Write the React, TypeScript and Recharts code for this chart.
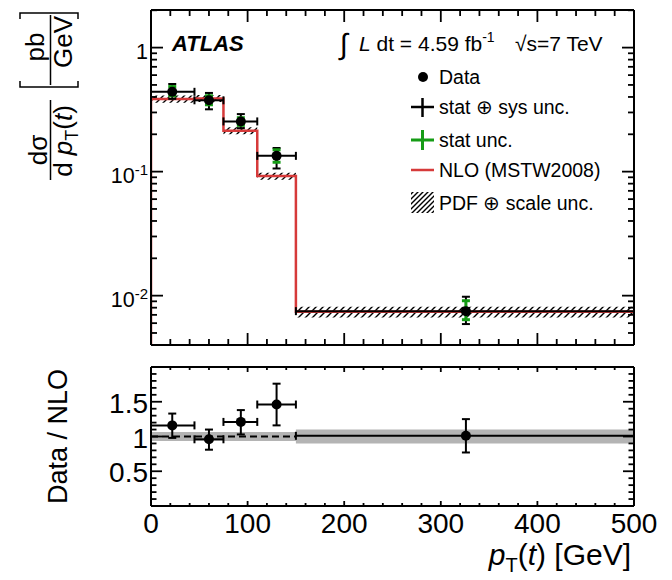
import React from 'react';
import { ComposedChart, Line, Area, Scatter, ErrorBar, XAxis, YAxis } from 'recharts';

const FONT = '"Liberation Sans", Arial, Helvetica, sans-serif';
const RED = '#d63a3a';
const GREEN = '#159c15';
const BAND_GRAY = '#b4b4b4';

// ---- data ----
const binEdges = [0, 45, 75, 110, 150, 500];
const nloValues = [0.385, 0.389, 0.214, 0.092, 0.0074];
const nloRelUnc = [0.065, 0.065, 0.065, 0.065, 0.1];

const dataX = [22, 60, 93, 130, 326];
const dataY = [0.44, 0.376, 0.254, 0.134, 0.0075];
const totErrUp = [0.069, 0.055, 0.037, 0.021, 0.0023];
const totErrDown = [0.054, 0.058, 0.03, 0.028, 0.0016];
const statErrUp = [0.045, 0.033, 0.018, 0.016, 0.0016];
const statErrDown = [0.031, 0.03, 0.018, 0.015, 0.0011];

const ratioY = [1.16, 0.96, 1.21, 1.46, 1.01];
const ratioErrUp = [0.17, 0.14, 0.17, 0.3, 0.24];
const ratioErrDown = [0.18, 0.15, 0.18, 0.3, 0.24];

// ---- ticks ----
const xMajorTicks = [0, 100, 200, 300, 400, 500];
const xTickLabels = ['0', '100', '200', '300', '400', '500'];
const xTicks = [0, 20, 40, 60, 80, 100, 120, 140, 160, 180, 200, 220, 240, 260, 280, 300, 320, 340, 360, 380, 400, 420, 440, 460, 480, 500];
const topYMajor = [1, 0.1, 0.01];
const topYLabelBase = ['1', '10', '10'];
const topYLabelExp = ['', '-1', '-2'];
const topYTicks = [0.005, 0.006, 0.007, 0.008, 0.009, 0.01, 0.02, 0.03, 0.04, 0.05, 0.06, 0.07, 0.08, 0.09, 0.1, 0.2, 0.3, 0.4, 0.5, 0.6, 0.7, 0.8, 0.9, 1, 2];
const topYDomain = [0.004, 2.01];
const ratioYMajor = [0.5, 1, 1.5];
const ratioYLabels = ['0.5', '1', '1.5'];
const ratioYTicks = [0.1, 0.2, 0.3, 0.4, 0.5, 0.6, 0.7, 0.8, 0.9, 1, 1.1, 1.2, 1.3, 1.4, 1.5, 1.6, 1.7, 1.8, 1.9];
const ratioYDomain = [0, 2];

// ---- tables built from the arrays ----
const nloStep = [
  { x: binEdges[0], nlo: topYDomain[0] },
  ...nloValues.map((v, i) => ({ x: binEdges[i], nlo: v })),
  { x: binEdges[binEdges.length - 1], nlo: nloValues[nloValues.length - 1] },
];
const nloBand = binEdges.map((e, i) => {
  const k = Math.min(i, nloValues.length - 1);
  return { x: e, band: [nloValues[k] * (1 - nloRelUnc[k]), nloValues[k] * (1 + nloRelUnc[k])] };
});
const ratioBand = binEdges.map((e, i) => {
  const k = Math.min(i, nloRelUnc.length - 1);
  return { x: e, band: [1 - nloRelUnc[k], 1 + nloRelUnc[k]] };
});
const ratioRef = [
  { x: binEdges[0], one: 1 },
  { x: binEdges[4], one: 1 },
];
const points = dataX.map((x, i) => ({
  x,
  y: dataY[i],
  xErr: [x - binEdges[i], binEdges[i + 1] - x],
  totErr: [totErrDown[i], totErrUp[i]],
  statErr: [statErrDown[i], statErrUp[i]],
}));
const ratioPoints = dataX.map((x, i) => ({
  x,
  r: ratioY[i],
  xErr: [x - binEdges[i], binEdges[i + 1] - x],
  rErr: [ratioErrDown[i], ratioErrUp[i]],
}));

type Side = 'bottom' | 'top' | 'left' | 'right';
const near = (a: number, b: number) => Math.abs(a - b) <= 1e-6 * Math.max(Math.abs(a), Math.abs(b), 1e-9);

function makeTick(
  side: Side,
  majors: number[],
  majorLen: number,
  minorLen: number,
  label?: (idx: number, x: number, y: number) => React.ReactNode
) {
  return (props: any) => {
    const { x, y, payload } = props;
    const v = Number(payload.value);
    const mi = majors.findIndex((m) => near(m, v));
    const L = mi >= 0 ? majorLen : minorLen;
    let x2 = x;
    let y2 = y;
    if (side === 'bottom') y2 = y - L;
    else if (side === 'top') y2 = y + L;
    else if (side === 'left') x2 = x + L;
    else x2 = x - L;
    return (
      <g>
        <line x1={x} y1={y} x2={x2} y2={y2} stroke="#000" strokeWidth={1.8} />
        {mi >= 0 && label ? label(mi, x, y) : null}
      </g>
    );
  };
}

const topYLabel = (i: number, x: number, y: number) => (
  <text x={x - 3} y={y + 11} textAnchor="end" fontSize={21.5} fontFamily={FONT} fill="#000">
    {topYLabelBase[i]}
    {topYLabelExp[i] ? (
      <tspan dy={-8} fontSize={15}>
        {topYLabelExp[i]}
      </tspan>
    ) : null}
  </text>
);
const ratioYLabel = (i: number, x: number, y: number) => (
  <text x={x - 3} y={y + 11} textAnchor="end" fontSize={28} fontFamily={FONT} fill="#000">
    {ratioYLabels[i]}
  </text>
);
const xLabel = (i: number, x: number, y: number) => (
  <text x={x} y={y + 26.5} textAnchor="middle" fontSize={28} fontFamily={FONT} fill="#000">
    {xTickLabels[i]}
  </text>
);

const frameLine = { stroke: '#000', strokeWidth: 2 };
const dotShape = (p: any) => <circle cx={p.cx} cy={p.cy} r={5} fill="#000" />;
const noShape = () => <g />;

const axisCommon = {
  tickSize: 0,
  tickMargin: 0,
  tickLine: false,
  interval: 0 as const,
  allowDataOverflow: true,
  axisLine: frameLine,
};

function TopChart() {
  return (
    <ComposedChart width={672} height={352} margin={{ top: 9, right: 37, bottom: 6, left: 150 }}>
      <XAxis
        xAxisId={0}
        dataKey="x"
        type="number"
        domain={[0, 500]}
        ticks={xTicks}
        height={1}
        {...axisCommon}
        tick={makeTick('bottom', xMajorTicks, 12, 6)}
      />
      <XAxis
        xAxisId="t"
        orientation="top"
        dataKey="x"
        type="number"
        domain={[0, 500]}
        ticks={xTicks}
        height={1}
        {...axisCommon}
        tick={makeTick('top', xMajorTicks, 12, 6)}
      />
      <YAxis
        yAxisId={0}
        scale="log"
        type="number"
        domain={topYDomain}
        ticks={topYTicks}
        width={1}
        {...axisCommon}
        tick={makeTick('left', topYMajor, 12, 6, topYLabel)}
      />
      <YAxis
        yAxisId="r"
        orientation="right"
        scale="log"
        type="number"
        domain={topYDomain}
        ticks={topYTicks}
        width={1}
        {...axisCommon}
        tick={makeTick('right', topYMajor, 12, 6)}
      />
      <Area
        data={nloBand}
        dataKey="band"
        type="stepAfter"
        fill="url(#hatchBand)"
        fillOpacity={1}
        stroke="none"
        isAnimationActive={false}
      />
      <Line
        data={nloStep}
        dataKey="nlo"
        type="stepAfter"
        stroke={RED}
        strokeWidth={2.5}
        dot={false}
        activeDot={false}
        isAnimationActive={false}
      />
      <Scatter data={points} dataKey="y" shape={dotShape} isAnimationActive={false}>
        <ErrorBar dataKey="xErr" direction="x" width={4} stroke="#000" strokeWidth={2} />
        <ErrorBar dataKey="totErr" direction="y" width={4} stroke="#000" strokeWidth={2} />
      </Scatter>
      <Scatter data={points} dataKey="y" shape={noShape} isAnimationActive={false}>
        <ErrorBar dataKey="statErr" direction="y" width={4} stroke={GREEN} strokeWidth={3} />
      </Scatter>
    </ComposedChart>
  );
}

function RatioChart() {
  return (
    <ComposedChart width={672} height={230} margin={{ top: 16, right: 37, bottom: 73, left: 150 }}>
      <XAxis
        xAxisId={0}
        dataKey="x"
        type="number"
        domain={[0, 500]}
        ticks={xTicks}
        height={1}
        {...axisCommon}
        tick={makeTick('bottom', xMajorTicks, 5, 3, xLabel)}
      />
      <XAxis
        xAxisId="t"
        orientation="top"
        dataKey="x"
        type="number"
        domain={[0, 500]}
        ticks={xTicks}
        height={1}
        {...axisCommon}
        tick={makeTick('top', xMajorTicks, 5, 3)}
      />
      <YAxis
        yAxisId={0}
        type="number"
        domain={ratioYDomain}
        ticks={ratioYTicks}
        width={1}
        {...axisCommon}
        tick={makeTick('left', ratioYMajor, 11, 5.5, ratioYLabel)}
      />
      <YAxis
        yAxisId="r"
        orientation="right"
        type="number"
        domain={ratioYDomain}
        ticks={ratioYTicks}
        width={1}
        {...axisCommon}
        tick={makeTick('right', ratioYMajor, 11, 5.5)}
      />
      <Area
        data={ratioBand}
        dataKey="band"
        type="stepAfter"
        fill={BAND_GRAY}
        fillOpacity={1}
        stroke="none"
        isAnimationActive={false}
      />
      <Line
        data={ratioRef}
        dataKey="one"
        type="linear"
        stroke="#000"
        strokeWidth={2}
        strokeDasharray="7 4"
        dot={false}
        activeDot={false}
        isAnimationActive={false}
      />
      <Scatter data={ratioPoints} dataKey="r" shape={dotShape} isAnimationActive={false}>
        <ErrorBar dataKey="xErr" direction="x" width={4} stroke="#000" strokeWidth={2} />
        <ErrorBar dataKey="rErr" direction="y" width={4} stroke="#000" strokeWidth={2} />
      </Scatter>
    </ComposedChart>
  );
}

function Overlay() {
  const t = { fontFamily: FONT, fill: '#000' };
  return (
    <svg
      width={672}
      height={580}
      style={{ position: 'absolute', left: 0, top: 0, pointerEvents: 'none' }}
    >
      <defs>
        <pattern id="hatchBand" patternUnits="userSpaceOnUse" width={7} height={7}>
          <path d="M0,7 L7,0 M-1,1 L1,-1 M6,8 L8,6" stroke="#000" strokeWidth={1.4} />
        </pattern>
        <pattern id="hatchLegend" patternUnits="userSpaceOnUse" width={5} height={5}>
          <path d="M0,5 L5,0 M-1,1 L1,-1 M4,6 L6,4" stroke="#000" strokeWidth={1.4} />
        </pattern>
      </defs>

      {/* ATLAS label */}
      <text x={172} y={51} fontSize={22} fontWeight="bold" fontStyle="italic" {...t}>
        ATLAS
      </text>

      {/* luminosity / energy */}
      <text x={340} y={54} fontSize={29} {...t}>
        ∫
      </text>
      <text x={359} y={51} fontSize={21} {...t}>
        <tspan fontStyle="italic">L</tspan> dt = 4.59 fb
        <tspan dy={-9} fontSize={14}>
          -1
        </tspan>
      </text>
      <text x={515} y={51} fontSize={21} {...t}>
        √s=7 TeV
      </text>

      {/* legend */}
      <circle cx={423} cy={77} r={5} fill="#000" />
      <text x={439} y={84} fontSize={19.5} {...t}>
        Data
      </text>
      <line x1={411} y1={107} x2={434} y2={107} stroke="#000" strokeWidth={2.5} />
      <line x1={422.5} y1={98} x2={422.5} y2={117} stroke="#000" strokeWidth={2.5} />
      <text x={439} y={114} fontSize={19.5} {...t}>
        stat ⊕ sys unc.
      </text>
      <line x1={411} y1={140} x2={434} y2={140} stroke={GREEN} strokeWidth={3} />
      <line x1={422.5} y1={130} x2={422.5} y2={150} stroke={GREEN} strokeWidth={3} />
      <text x={439} y={147} fontSize={19.5} {...t}>
        stat unc.
      </text>
      <line x1={411} y1={170} x2={434} y2={170} stroke={RED} strokeWidth={2.5} />
      <text x={439} y={177} fontSize={19.5} {...t}>
        NLO (MSTW2008)
      </text>
      <rect x={411} y={192} width={23} height={21} fill="url(#hatchLegend)" />
      <text x={439} y={210} fontSize={19.5} {...t}>
        PDF ⊕ scale unc.
      </text>

      {/* top y-axis title */}
      <text transform="translate(47,150) rotate(-90)" textAnchor="middle" fontSize={26} {...t}>
        dσ
      </text>
      <line x1={50.5} y1={100} x2={50.5} y2={180} stroke="#000" strokeWidth={1.5} />
      <text transform="translate(72,141) rotate(-90)" textAnchor="middle" fontSize={26} {...t}>
        d <tspan fontStyle="italic">p</tspan>
        <tspan dy={6} fontSize={18}>
          T
        </tspan>
        <tspan dy={-6}>(</tspan>
        <tspan fontStyle="italic">t</tspan>)
      </text>
      <text transform="translate(44,47) rotate(-90)" textAnchor="middle" fontSize={26} {...t}>
        pb
      </text>
      <line x1={50.5} y1={15} x2={50.5} y2={85} stroke="#000" strokeWidth={1.5} />
      <text transform="translate(72,42) rotate(-90)" textAnchor="middle" fontSize={26} {...t}>
        GeV
      </text>
      <path d="M20,81 L20,87 L78,87 L78,81" fill="none" stroke="#000" strokeWidth={1.5} />
      <path d="M20,19 L20,13 L78,13 L78,19" fill="none" stroke="#000" strokeWidth={1.5} />

      {/* ratio y title */}
      <text transform="translate(67,436.5) rotate(-90)" textAnchor="middle" fontSize={27} {...t}>
        Data / NLO
      </text>

      {/* x title */}
      <text x={631} y={565} textAnchor="end" fontSize={30} {...t}>
        <tspan fontStyle="italic">p</tspan>
        <tspan dy={7} fontSize={20}>
          T
        </tspan>
        <tspan dy={-7}>(</tspan>
        <tspan fontStyle="italic">t</tspan>) [GeV]
      </text>
    </svg>
  );
}

export default function App() {
  return (
    <div
      style={{
        position: 'absolute',
        left: 0,
        top: 0,
        width: 672,
        height: 580,
        background: '#fff',
        fontFamily: FONT,
      }}
    >
      <div style={{ position: 'absolute', left: 0, top: 0 }}>
        <TopChart />
      </div>
      <div style={{ position: 'absolute', left: 0, top: 350 }}>
        <RatioChart />
      </div>
      <Overlay />
    </div>
  );
}
